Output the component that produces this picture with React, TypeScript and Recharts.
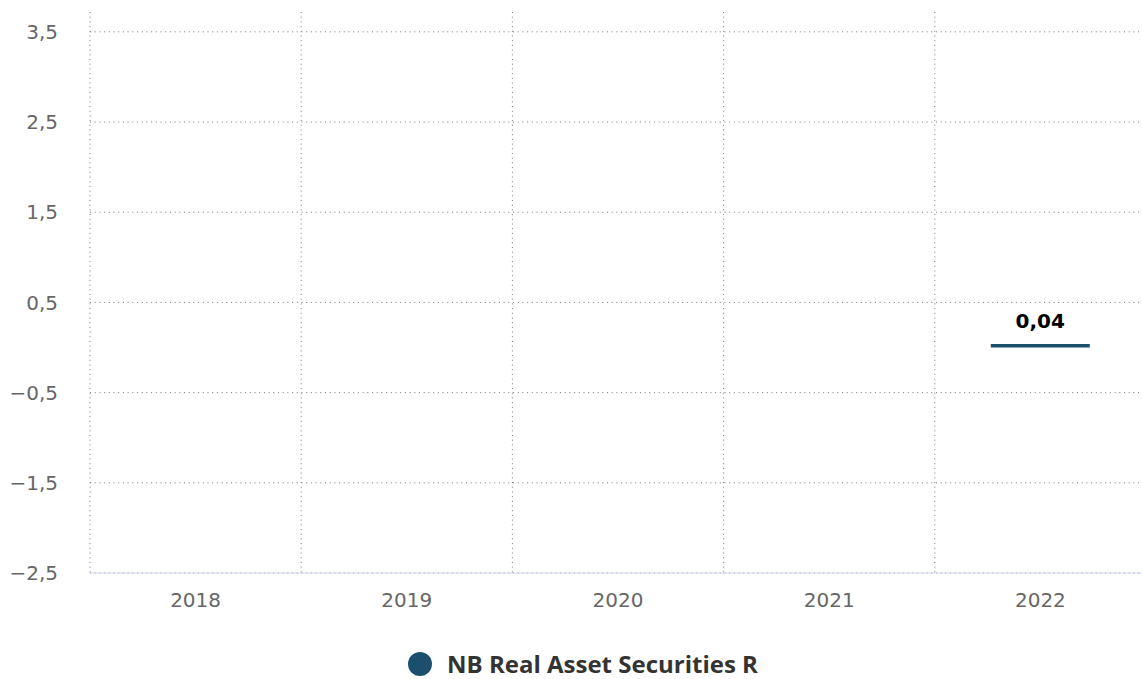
import React from "react";
import {
  Bar,
  BarChart,
  CartesianGrid,
  LabelList,
  Legend,
  XAxis,
  YAxis
} from "recharts";

const years = ["2018", "2019", "2020", "2021", "2022"];
const fundReturns: (number | null)[] = [null, null, null, null, 0.04];
const yTicks = [-2.5, -1.5, -0.5, 0.5, 1.5, 2.5, 3.5];
const yDomain: [number, number] = [-2.5, 3.72];
const seriesName = "NB Real Asset Securities R";

const TICK_FONT = "'DejaVu Sans', sans-serif";
const LEGEND_FONT = "'Open Sans', sans-serif";
const BAR_COLOR = "#1c4f6e";

const fmt = (v: number) => {
  const s = String(v).replace(".", ",");
  return s.startsWith("-") ? "\u2212" + s.slice(1) : s;
};

function LegendBox() {
  return (
    <div
      style={{
        width: 1142,
        height: 40,
        boxSizing: "border-box",
        paddingTop: 9,
        paddingLeft: 24,
        display: "flex",
        justifyContent: "center",
        alignItems: "center",
        fontFamily: LEGEND_FONT,
        fontWeight: 700,
        fontSize: 24,
        color: "#333",
        lineHeight: "22px"
      }}
    >
      <span
        style={{
          width: 24,
          height: 24,
          borderRadius: "50%",
          background: BAR_COLOR,
          display: "inline-block",
          marginRight: 15
        }}
      />
      {seriesName}
    </div>
  );
}

export default function App() {
  const data = years.map((year, i) => ({ year, value: fundReturns[i] }));

  return (
    <div style={{ position: "absolute", left: 0, top: 0, width: 1142, height: 679, background: "#fff", overflow: "hidden" }}>
      <BarChart
        width={1146}
        height={679}
        data={data}
        margin={{ top: 12, right: 0, bottom: 0, left: 0 }}
      >
        <CartesianGrid
          stroke="#777"
          strokeDasharray="1 3.7"
          verticalCoordinatesGenerator={({ offset }: any) =>
            years.map((_, i) => offset.left + (i * offset.width) / years.length)
          }
          horizontalCoordinatesGenerator={({ offset }: any) =>
            yTicks.map(
              (t) => offset.top + (offset.height * (yDomain[1] - t)) / (yDomain[1] - yDomain[0])
            )
          }
        />
        <XAxis
          dataKey="year"
          height={66}
          tickLine={false}
          tickSize={0}
          tickMargin={20}
          axisLine={{ stroke: "#ccd6eb" }}
          tick={{ fontSize: 20, fill: "#666", fontFamily: TICK_FONT }}
        />
        <YAxis
          width={90}
          domain={yDomain}
          ticks={yTicks}
          allowDataOverflow
          axisLine={false}
          tickLine={false}
          tickSize={0}
          tickMargin={32}
          tickFormatter={fmt}
          tick={{ fontSize: 20, fill: "#666", fontFamily: TICK_FONT }}
        />
        <Legend
          verticalAlign="bottom"
          wrapperStyle={{ width: 1142, left: 0 }}
          content={() => <LegendBox />}
        />
        <Bar dataKey="value" name={seriesName} fill={BAR_COLOR} barSize={99} isAnimationActive={false}>
          <LabelList
            dataKey="value"
            position="top"
            offset={16}
            formatter={(v: any) => (v == null ? "" : fmt(v))}
            style={{ fontSize: 20, fontWeight: 700, fill: "#000", fontFamily: TICK_FONT }}
          />
        </Bar>
      </BarChart>
    </div>
  );
}
